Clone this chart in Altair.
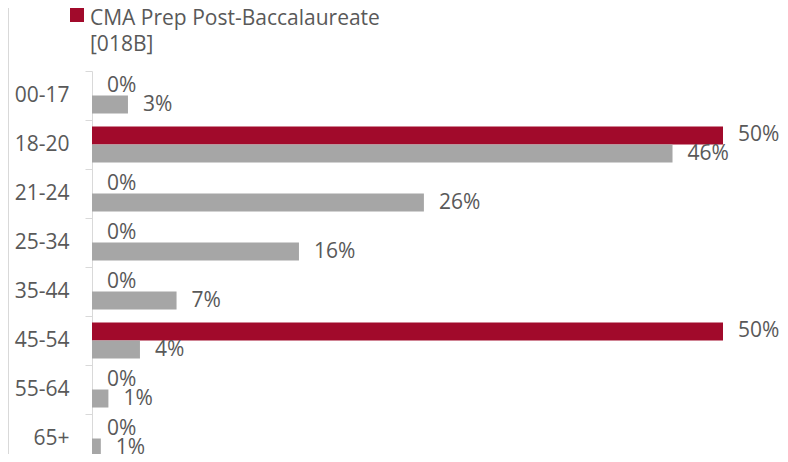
import altair as alt
import pandas as pd

ages = ["00-17", "18-20", "21-24", "25-34", "35-44", "45-54", "55-64", "65+"]
series = ["CMA Prep Post-Baccalaureate [018B]", "All"]
cma_values = [0.0, 0.50, 0.0, 0.0, 0.0, 0.50, 0.0, 0.0]
all_values = [0.0285, 0.460, 0.263, 0.164, 0.067, 0.038, 0.013, 0.007]
colors = ["#A10A2B", "#A6A6A6"]
legend_label = "CMA Prep Post-Baccalaureate\n[018B]"

rows = []
for a, c, g in zip(ages, cma_values, all_values):
    rows.append({"age": a, "series": series[0], "value": c})
    rows.append({"age": a, "series": series[1], "value": g})
df = pd.DataFrame(rows)

FONT = "Open Sans"
TXT = "#595959"
FS = 21
W, H = 688, 383
STEP_RANGE = 392

y_enc = alt.Y("age:N", sort=ages,
              scale=alt.Scale(domain=ages, range=[0, STEP_RANGE], paddingInner=0, paddingOuter=0),
              axis=alt.Axis(title=None, domainColor="#D9D9D9", tickColor="#D9D9D9", tickSize=7,
                            bandPosition=0, labelPadding=16, labelFontSize=FS, labelFont=FONT,
                            labelColor=TXT, grid=False, labelAlign="right"))
yoff = alt.YOffset("series:N", sort=series,
                   scale=alt.Scale(domain=series, paddingInner=0, paddingOuter=0.36))
x_enc = alt.X("value:Q", scale=alt.Scale(domain=[0, W / 1262.0], nice=False, zero=True),
              axis=None)
color_enc = alt.Color("series:N", scale=alt.Scale(domain=series, range=colors), legend=None)

base = alt.Chart(df)
bars = base.mark_bar().encode(y=y_enc, yOffset=yoff, x=x_enc, color=color_enc)
labels = base.mark_text(align="left", baseline="middle", dx=15, fontSize=FS, font=FONT,
                        color=TXT).encode(y=y_enc, yOffset=yoff, x=x_enc,
                                          text=alt.Text("value:Q", format=".0%"))

leg_df = pd.DataFrame({"label": [legend_label], "series": [series[0]]})
leg_sq = alt.Chart(leg_df).mark_square(size=196, opacity=1, filled=True).encode(
    x=alt.value(-15), y=alt.value(-56), color=alt.value(colors[0]))
leg_txt = alt.Chart(leg_df).mark_text(align="left", baseline="middle", fontSize=FS, font=FONT,
                                      color=TXT, lineBreak="\n", lineHeight=26).encode(
    x=alt.value(-2), y=alt.value(-52), text="label:N")

border = alt.Chart(pd.DataFrame({"k": [0]})).mark_rule(color="#D9D9D9", strokeWidth=1).encode(
    x=alt.value(-83.5), y=alt.value(-63), y2=alt.value(STEP_RANGE))

chart = alt.layer(bars, labels, leg_sq, leg_txt, border).properties(
    width=W, height=H,
    autosize=alt.AutoSizeParams(type="none"),
    padding={"left": 84, "top": 63, "right": 0, "bottom": 0},
).configure_view(stroke=None)

chart.save("out.html", embed_options={"renderer": "svg", "actions": False})
